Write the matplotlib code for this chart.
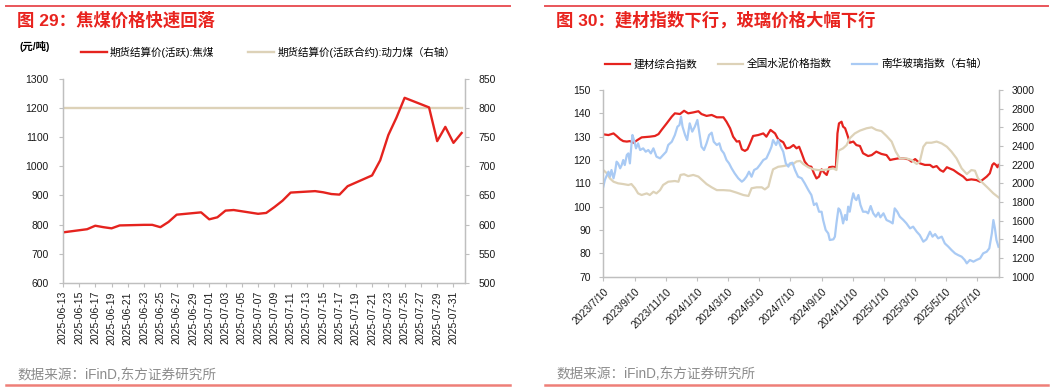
import matplotlib
matplotlib.use('Agg')
import matplotlib.pyplot as plt
from matplotlib.lines import Line2D
import pandas as pd

plt.rcParams['font.family'] = ['Liberation Sans', 'Noto Sans CJK SC']
plt.rcParams['axes.unicode_minus'] = False

# ---------------- data: left chart (coking coal) ----------------
coke_dates = ['2025-06-13', '2025-06-16', '2025-06-17', '2025-06-18', '2025-06-19', '2025-06-20',
              '2025-06-23', '2025-06-24', '2025-06-25', '2025-06-26', '2025-06-27', '2025-06-30',
              '2025-07-01', '2025-07-02', '2025-07-03', '2025-07-04', '2025-07-07', '2025-07-08',
              '2025-07-09', '2025-07-10', '2025-07-11', '2025-07-14', '2025-07-15', '2025-07-16',
              '2025-07-17', '2025-07-18', '2025-07-21', '2025-07-22', '2025-07-23', '2025-07-24',
              '2025-07-25', '2025-07-28', '2025-07-29', '2025-07-30', '2025-07-31', '2025-08-01']
coke_val = [773, 784, 796, 791, 787, 797,
            799, 799, 791, 809, 834, 842,
            818, 825, 848, 850, 837, 840,
            860, 882, 910, 915, 911, 905,
            903, 932, 969, 1021, 1108, 1168,
            1236, 1203, 1087, 1136, 1081, 1115]
thermal_val = [801, 801, 801, 801, 801, 801,
               801, 801, 801, 801, 801, 801,
               801, 801, 801, 801, 801, 801,
               801, 801, 801, 801, 801, 801,
               801, 801, 801, 801, 801, 801,
               801, 801, 801, 801, 801, 801]
left_label_1 = '期货结算价(活跃):焦煤'
left_label_2 = '期货结算价(活跃合约):动力煤（右轴）'

# ---------------- data: right chart (building materials) ----------------
start_date = '2023-07-10'
red_day = [0, 10, 20, 26, 33, 39, 46, 52, 59, 67,
           75, 91, 101, 108, 114, 124, 134, 140, 150, 158,
           166, 176, 186, 192, 202, 212, 222, 235, 241, 248,
           254, 261, 266, 271, 277, 282, 287, 293, 303, 313,
           319, 327, 336, 342, 352, 358, 365, 372, 378, 383,
           388, 394, 401, 407, 412, 417, 422, 427, 432, 437,
           442, 448, 455, 458, 461, 466, 469, 473, 476, 479,
           482, 489, 495, 502, 508, 518, 525, 534, 544, 554,
           561, 567, 577, 587, 597, 603, 610, 619, 629, 639,
           645, 652, 659, 665, 672, 685, 694, 704, 711, 720,
           730, 737, 743, 750, 756, 761, 764, 768, 771, 773]
red_val = [131.0, 130.7, 131.4, 130.3, 128.9, 128.1, 127.9, 128.1, 127.4, 128.6,
           129.7, 130.0, 130.3, 131.1, 132.9, 135.7, 138.6, 140.0, 139.7, 141.1,
           140.0, 140.4, 140.9, 139.7, 138.9, 139.3, 138.3, 138.3, 136.4, 133.6,
           130.0, 127.9, 128.1, 124.6, 123.9, 124.6, 127.1, 130.3, 130.7, 131.4,
           130.0, 132.9, 131.4, 128.9, 127.6, 125.0, 125.3, 126.4, 125.0, 125.7,
           122.9, 119.3, 117.4, 117.1, 114.3, 112.1, 112.9, 116.0, 114.6, 113.6,
           116.9, 117.1, 116.9, 131.4, 135.7, 136.4, 134.3, 133.6, 131.7, 129.7,
           127.4, 127.9, 126.4, 126.0, 122.9, 121.7, 122.1, 123.6, 122.6, 122.1,
           120.0, 120.3, 120.7, 120.7, 120.3, 119.3, 120.4, 118.6, 117.9, 117.9,
           116.9, 117.4, 115.7, 115.0, 116.9, 115.7, 114.3, 112.9, 111.4, 111.7,
           111.4, 110.7, 111.7, 112.9, 114.3, 117.9, 118.6, 117.9, 116.9, 117.9]

tan_day = [0, 7, 13, 20, 29, 39, 49, 55, 62, 68,
           75, 85, 91, 98, 104, 111, 117, 127, 140, 147,
           151, 158, 166, 176, 186, 192, 202, 212, 222, 235,
           248, 261, 274, 284, 290, 300, 310, 316, 323, 328,
           332, 342, 352, 362, 372, 378, 385, 391, 401, 411,
           420, 430, 440, 450, 456, 460, 469, 476, 482, 492,
           502, 515, 525, 534, 544, 554, 564, 572, 580, 593,
           603, 613, 619, 626, 632, 642, 652, 662, 672, 681,
           691, 701, 711, 720, 727, 733, 743, 753, 763, 773]
tan_val = [115.7, 114.3, 112.1, 110.7, 110.0, 109.7, 109.3, 109.7, 107.9, 105.7,
           105.0, 105.7, 105.0, 106.4, 105.7, 107.1, 109.3, 110.7, 111.0, 110.7,
           113.6, 113.9, 113.1, 113.6, 112.9, 111.7, 109.7, 108.3, 107.1, 107.1,
           106.9, 106.0, 105.0, 104.6, 107.9, 108.3, 108.3, 107.4, 108.6, 112.9,
           116.0, 117.1, 117.4, 117.9, 118.4, 119.4, 119.6, 118.3, 116.9, 116.0,
           115.7, 115.7, 116.0, 116.4, 115.7, 124.0, 125.0, 126.4, 129.3, 131.4,
           132.6, 133.6, 134.0, 132.9, 132.4, 130.3, 127.9, 123.6, 120.7, 120.7,
           120.0, 118.3, 119.3, 125.7, 127.4, 127.4, 127.9, 127.1, 125.7, 123.6,
           120.7, 116.4, 114.0, 115.7, 115.4, 112.1, 110.0, 107.9, 105.7, 104.0]

blue_day = [0, 3, 10, 13, 16, 20, 23, 26, 29, 33,
            36, 39, 42, 46, 49, 52, 55, 57, 60, 64,
            68, 72, 78, 83, 88, 93, 98, 104, 111, 117,
            123, 127, 134, 140, 145, 149, 152, 155, 160, 164,
            169, 174, 179, 184, 188, 192, 197, 202, 207, 212,
            216, 222, 227, 231, 236, 241, 246, 251, 257, 264,
            271, 275, 280, 285, 290, 295, 301, 306, 313, 319,
            325, 329, 332, 338, 342, 347, 352, 357, 362, 365,
            370, 375, 381, 388, 394, 401, 407, 412, 417, 422,
            427, 430, 435, 440, 443, 450, 453, 456, 460, 463,
            466, 469, 473, 476, 479, 482, 486, 489, 492, 495,
            499, 503, 508, 514, 518, 523, 528, 533, 538, 542,
            548, 554, 561, 566, 570, 575, 580, 587, 593, 600,
            606, 613, 619, 626, 632, 639, 644, 649, 655, 662,
            668, 675, 681, 688, 694, 701, 707, 711, 717, 724,
            730, 737, 743, 750, 755, 760, 763, 766, 769, 773]
blue_val = [1964, 2036, 2125, 2071, 2143, 2054, 2125, 2232, 2214, 2161,
            2196, 2250, 2196, 2304, 2321, 2214, 2411, 2518, 2464, 2375,
            2429, 2357, 2375, 2339, 2357, 2321, 2375, 2286, 2268, 2304,
            2339, 2411, 2446, 2518, 2607, 2625, 2714, 2607, 2518, 2464,
            2643, 2554, 2607, 2679, 2536, 2393, 2357, 2429, 2518, 2543,
            2446, 2411, 2429, 2357, 2321, 2250, 2214, 2161, 2107, 2054,
            2018, 2036, 2071, 2125, 2071, 2143, 2161, 2196, 2250, 2268,
            2339, 2393, 2464, 2411, 2464, 2393, 2339, 2214, 2179, 2214,
            2221, 2143, 2071, 2054, 2000, 1929, 1875, 1768, 1786, 1696,
            1696, 1607, 1500, 1464, 1393, 1400, 1429, 1571, 1732, 1714,
            1661, 1571, 1661, 1607, 1750, 1696, 1821, 1893, 1839, 1821,
            1875, 1768, 1696, 1696, 1679, 1757, 1679, 1643, 1686, 1636,
            1679, 1607, 1589, 1571, 1732, 1696, 1643, 1607, 1571, 1518,
            1536, 1482, 1446, 1375, 1400, 1482, 1429, 1457, 1411, 1429,
            1357, 1321, 1286, 1250, 1232, 1214, 1179, 1143, 1179, 1161,
            1179, 1196, 1250, 1268, 1304, 1464, 1607, 1518, 1393, 1321]
right_labels = ['建材综合指数', '全国水泥价格指数', '南华玻璃指数（右轴）']
right_xticks = ['2023-07-10', '2023-09-10', '2023-11-10', '2024-01-10', '2024-03-10',
                '2024-05-10', '2024-07-10', '2024-09-10', '2024-11-10', '2025-01-10',
                '2025-03-10', '2025-05-10', '2025-07-10']

# ---------------- style ----------------
RED = '#E5231E'
TAN = '#DDD2B8'
BLUE = '#A9CAF4'
TITLE_RED = '#E8231E'
SPINE = '#BFBFBF'
FS = 7.5

W, H = 1061, 391
fig = plt.figure(figsize=(W / 100, H / 100), dpi=100)


def fx(px):
    return px / W


def fy(py):
    return 1 - py / H


def style_axes(ax, sides):
    for s in ['top', 'left', 'right', 'bottom']:
        ax.spines[s].set_visible(s in sides)
        ax.spines[s].set_color(SPINE)
        ax.spines[s].set_linewidth(0.9)
    ax.tick_params(colors=SPINE, labelcolor='#1a1a1a', labelsize=FS, length=3, width=0.8)


# ---------------- left chart ----------------
ax1 = fig.add_axes([fx(62.7), fy(282.7), fx(465) - fx(62.7), fy(79.2) - fy(282.7)])
ax1b = ax1.twinx()
cd = pd.to_datetime(coke_dates)
l2, = ax1b.plot(cd, thermal_val, color=TAN, lw=1.7)
l1, = ax1.plot(cd, coke_val, color=RED, lw=1.7)
ax1.set_zorder(ax1b.get_zorder() + 1)
ax1.patch.set_visible(False)
ax1.set_ylim(600, 1300)
ax1.set_yticks(range(600, 1301, 100))
ax1b.set_ylim(500, 850)
ax1b.set_yticks(range(500, 851, 50))
ax1.set_xlim(pd.Timestamp('2025-06-13'), pd.Timestamp('2025-08-01') + pd.Timedelta(hours=10))
lticks = pd.date_range('2025-06-13', '2025-07-31', freq='2D')
ax1.set_xticks(lticks)
ax1.set_xticklabels([d.strftime('%Y-%m-%d') for d in lticks], rotation=90)
style_axes(ax1, ['left', 'bottom', 'right'])
style_axes(ax1b, ['left', 'bottom', 'right'])
ax1.tick_params(axis='y', pad=7)
ax1b.tick_params(axis='y', pad=7)
ax1.tick_params(axis='x', pad=3)

fig.legend([l1, l2], [left_label_1, left_label_2], loc='center left',
           bbox_to_anchor=(fx(81), fy(52)), ncol=2, frameon=False, fontsize=7.6,
           handlelength=2.45, handletextpad=0.3, columnspacing=3.2,
           borderpad=0, borderaxespad=0)
fig.text(fx(20), fy(47), '(元/吨)', fontsize=7.5, fontweight='bold', va='center', ha='left')

# ---------------- right chart ----------------
ax2 = fig.add_axes([fx(603.3), fy(276.7), fx(999) - fx(603.3), fy(90) - fy(276.7)])
ax2b = ax2.twinx()
base = pd.Timestamp(start_date)
rd = base + pd.to_timedelta(red_day, unit='D')
td = base + pd.to_timedelta(tan_day, unit='D')
bd = base + pd.to_timedelta(blue_day, unit='D')
r1, = ax2.plot(rd, red_val, color=RED, lw=1.6)
r2, = ax2.plot(td, tan_val, color=TAN, lw=1.6)
r3, = ax2b.plot(bd, blue_val, color=BLUE, lw=1.6)
ax2.set_ylim(70, 150)
ax2.set_yticks(range(70, 151, 10))
ax2b.set_ylim(1000, 3000)
ax2b.set_yticks(range(1000, 3001, 200))
ax2.set_xlim(base, base + pd.Timedelta(days=774))
rt = pd.to_datetime(right_xticks)
ax2.set_xticks(rt)
ax2.set_xticklabels([f'{d.year}/{d.month}/{d.day}' for d in rt], rotation=45,
                    ha='right', rotation_mode='anchor')
style_axes(ax2, ['left', 'bottom', 'right'])
style_axes(ax2b, ['left', 'bottom', 'right'])
ax2.tick_params(axis='y', pad=6)
ax2b.tick_params(axis='y', pad=6)
ax2.tick_params(axis='x', pad=4)

fig.legend([r1, r2, r3], right_labels, loc='center left',
           bbox_to_anchor=(fx(605), fy(64)), ncol=3, frameon=False, fontsize=7.7,
           handlelength=2.35, handletextpad=0.35, columnspacing=1.9,
           borderpad=0, borderaxespad=0)

# ---------------- titles, sources, decorative rules ----------------
fig.text(fx(17), fy(20), '图 29：焦煤价格快速回落', color=TITLE_RED, fontsize=12.5,
         fontweight='bold', va='center', ha='left')
fig.text(fx(556), fy(20), '图 30：建材指数下行，玻璃价格大幅下行', color=TITLE_RED, fontsize=12.5,
         fontweight='bold', va='center', ha='left')
fig.text(fx(17), fy(375), '数据来源：iFinD,东方证券研究所', color='#8C8C8C', fontsize=9.8,
         va='center', ha='left')
fig.text(fx(556), fy(374), '数据来源：iFinD,东方证券研究所', color='#8C8C8C', fontsize=9.8,
         va='center', ha='left')

for x0, x1 in [(6, 510), (545, 1048)]:
    fig.add_artist(Line2D([fx(x0), fx(x1)], [fy(5.7), fy(5.7)], color='#E9555A', lw=1.4))
    fig.add_artist(Line2D([fx(x0), fx(x1)], [fy(385), fy(385)], color='#EE7F78', lw=1.8))

fig.savefig('out.png', dpi=100)
